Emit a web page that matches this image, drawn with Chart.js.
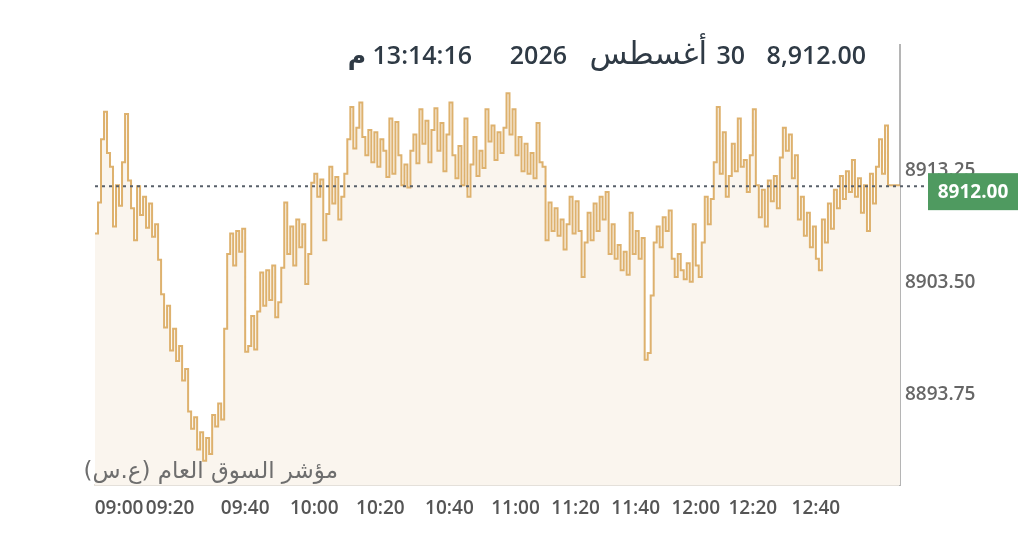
<!DOCTYPE html>
<html>
<head>
<meta charset="utf-8">
<script src="https://cdn.jsdelivr.net/npm/chart.js@4/dist/chart.umd.min.js"></script>
<style>
  html, body { margin: 0; padding: 0; background: #fff; }
  #wrap { width: 1024px; height: 555px; position: relative; }
</style>
</head>
<body>
<div id="wrap"><canvas id="chart"></canvas></div>
<script>
// intraday index values, one per trade tick
const prices = [
  8907.8, 8910.5, 8916.0, 8918.4, 8914.8, 8913.6, 8908.4, 8912.0, 8910.2, 8914.0,
  8918.2, 8912.4, 8910.0, 8907.2, 8911.9, 8909.4, 8911.0, 8908.3, 8910.4, 8907.5,
  8908.6, 8905.5, 8902.5, 8899.6, 8901.5, 8897.6, 8899.5, 8896.7, 8898.0, 8895.0,
  8896.0, 8892.3, 8890.8, 8891.8, 8889.0, 8890.5, 8888.0, 8890.0, 8888.6, 8892.0,
  8891.0, 8893.0, 8891.6, 8899.5, 8906.0, 8907.8, 8905.0, 8908.0, 8906.2, 8908.2,
  8897.5, 8898.0, 8900.6, 8897.7, 8901.0, 8904.4, 8901.5, 8904.6, 8902.0, 8905.0,
  8900.5, 8901.8, 8904.8, 8910.5, 8906.0, 8908.4, 8905.0, 8909.0, 8906.6, 8908.6,
  8903.4, 8906.0, 8912.2, 8913.0, 8911.0, 8912.5, 8907.2, 8909.5, 8913.6, 8910.4,
  8912.7, 8909.0, 8911.0, 8913.0, 8916.0, 8918.8, 8915.2, 8917.0, 8919.2, 8916.2,
  8914.6, 8916.8, 8914.0, 8916.6, 8913.6, 8916.0, 8915.0, 8912.7, 8917.8, 8913.0,
  8917.5, 8914.6, 8912.0, 8913.8, 8911.8, 8915.0, 8916.4, 8913.9, 8918.6, 8915.6,
  8917.6, 8914.0, 8916.8, 8918.7, 8915.0, 8917.4, 8913.2, 8916.4, 8919.2, 8914.6,
  8912.6, 8915.4, 8912.0, 8917.8, 8911.0, 8913.8, 8916.2, 8912.8, 8915.0, 8913.5,
  8918.6, 8915.8, 8917.2, 8914.2, 8916.6, 8914.8, 8917.0, 8920.0, 8916.4, 8918.6,
  8914.6, 8916.2, 8913.2, 8915.6, 8913.0, 8914.8, 8912.6, 8917.4, 8914.0, 8913.6,
  8907.2, 8910.5, 8908.0, 8910.0, 8907.6, 8909.0, 8906.4, 8908.6, 8911.0, 8907.8,
  8910.6, 8908.0, 8904.0, 8907.0, 8909.6, 8907.2, 8910.4, 8908.0, 8911.0, 8909.0,
  8911.4, 8906.0, 8908.6, 8905.6, 8906.8, 8904.6, 8906.2, 8904.2, 8909.6, 8906.0,
  8908.0, 8905.6, 8907.4, 8896.8, 8897.4, 8902.4, 8907.0, 8908.4, 8906.6, 8909.2,
  8908.0, 8909.8, 8905.6, 8904.0, 8906.0, 8904.6, 8903.8, 8905.2, 8903.6, 8908.6,
  8905.0, 8904.0, 8907.0, 8911.0, 8908.6, 8910.8, 8914.0, 8918.8, 8913.0, 8916.6,
  8911.0, 8912.8, 8915.6, 8913.2, 8917.8, 8913.6, 8914.2, 8911.4, 8914.6, 8918.6,
  8912.0, 8909.2, 8911.6, 8908.4, 8912.4, 8910.6, 8912.8, 8910.0, 8914.4, 8917.0,
  8915.0, 8916.4, 8912.6, 8914.6, 8909.0, 8911.0, 8907.6, 8909.6, 8906.6, 8908.4,
  8905.6, 8904.6, 8909.0, 8907.0, 8910.4, 8908.2, 8911.6, 8910.0, 8912.8, 8910.8,
  8913.2, 8911.4, 8914.2, 8911.0, 8912.6, 8909.6, 8912.0, 8908.0, 8913.0, 8910.4,
  8913.6, 8916.0, 8913.0, 8917.2, 8912.0, 8912.0, 8912.0, 8912.0, 8912.0
];

// time labels and the tick index they fall on
const xTickLabels = ['09:00', '09:20', '09:40', '10:00', '10:20', '10:40', '11:00', '11:20', '11:40', '12:00', '12:20', '12:40'];
const xTickIdx = [8, 25, 50, 73, 95, 118, 140, 160, 180, 200, 219, 240];
const yTicks = [8893.75, 8903.50, 8913.25];

const lastPrice = 8912.00;
const titlePrice = '8,912.00';
const titleDay = '30';
const titleMonth = 'أغسطس';
const titleYear = '2026';
const titleTime = '13:14:16 م';
const seriesName = 'مؤشر السوق العام (ع.س)';

const FONT = "'Open Sans', 'DejaVu Sans', sans-serif";
const AR_FONT = "'DejaVu Sans', sans-serif";

const points = prices.map((p, i) => ({ x: i, y: p }));

// draws the title, series caption, the last price line and its tag
const overlayPlugin = {
  id: 'overlay',
  afterDraw(chart) {
    const ctx = chart.ctx;
    const area = chart.chartArea;
    const py = chart.scales.y.getPixelForValue(lastPrice);

    ctx.save();
    // dotted last price line
    ctx.strokeStyle = '#58606a';
    ctx.lineWidth = 2;
    ctx.setLineDash([3, 4]);
    ctx.beginPath();
    ctx.moveTo(area.left, py + 1);
    ctx.lineTo(928, py + 1);
    ctx.stroke();
    ctx.setLineDash([]);

    // green price tag
    ctx.fillStyle = '#4f9a60';
    ctx.fillRect(928, py - 12, 90, 37);
    ctx.fillStyle = '#ffffff';
    ctx.font = '700 19px ' + FONT;
    ctx.textAlign = 'center';
    ctx.textBaseline = 'middle';
    ctx.fillText(lastPrice.toFixed(2), 973, py + 7);

    // title pieces
    ctx.fillStyle = '#2f3a45';
    ctx.textAlign = 'right';
    ctx.font = '600 25px ' + FONT;
    ctx.fillText(titlePrice, 866, 57);
    ctx.fillText(titleDay, 745, 57);
    ctx.fillText(titleYear, 567, 57);
    ctx.font = '400 31px ' + AR_FONT;
    ctx.direction = 'rtl';
    ctx.fillText(titleMonth, 707, 56);
    ctx.font = '600 25px ' + FONT;
    ctx.fillText(titleTime, 472, 57);

    // series caption
    ctx.fillStyle = '#6e6e6e';
    ctx.font = '400 23px ' + AR_FONT;
    ctx.fillText(seriesName, 338, 472);
    ctx.restore();
  }
};

new Chart(document.getElementById('chart'), {
  type: 'line',
  data: {
    datasets: [{
      data: points,
      borderColor: 'rgba(216, 164, 86, 0.85)',
      borderWidth: 2,
      backgroundColor: '#faf5ee',
      fill: 'start',
      stepped: true,
      pointRadius: 0,
      tension: 0
    }]
  },
  plugins: [overlayPlugin],
  options: {
    responsive: true,
    maintainAspectRatio: false,
    animation: false,
    layout: { padding: { left: 95, top: 45, right: 0, bottom: 0 } },
    plugins: {
      legend: { display: false },
      tooltip: { enabled: false }
    },
    scales: {
      x: {
        type: 'linear',
        min: 0,
        max: 268,
        grid: { display: false, drawTicks: false },
        border: { display: true, color: '#e4e0da', width: 2 },
        afterBuildTicks: scale => { scale.ticks = xTickIdx.map(v => ({ value: v })); },
        afterFit: scale => { scale.height = 70; },
        ticks: {
          autoSkip: false,
          maxRotation: 0,
          padding: 12,
          color: '#555',
          font: { family: FONT, size: 19, weight: '600' },
          callback: (v, i) => xTickLabels[i]
        }
      },
      y: {
        position: 'right',
        min: 8885.9,
        max: 8924.2,
        grid: { display: false, drawTicks: false },
        border: { display: true, color: '#b5b5b5', width: 2 },
        afterBuildTicks: scale => { scale.ticks = yTicks.map(v => ({ value: v })); },
        afterFit: scale => { scale.width = 124; },
        ticks: {
          padding: 5,
          color: '#666',
          font: { family: FONT, size: 19, weight: '600' },
          callback: v => v.toFixed(2)
        }
      }
    }
  }
});
</script>
</body>
</html>
